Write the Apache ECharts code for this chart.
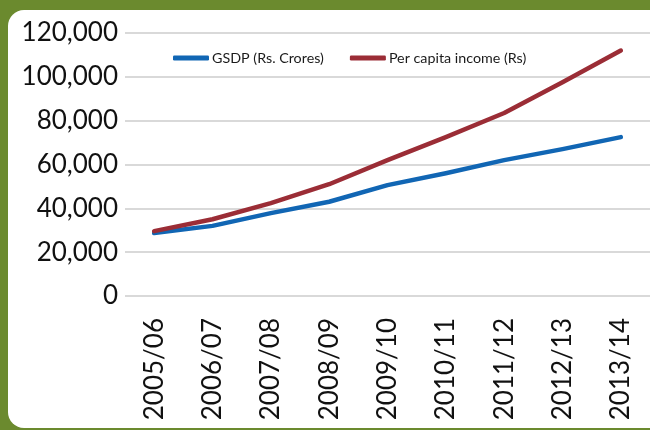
<!DOCTYPE html>
<html>
<head>
<meta charset="utf-8">
<script src="https://cdn.jsdelivr.net/npm/echarts@6/dist/echarts.min.js"></script>
<style>
html,body{margin:0;padding:0;background:#6b8a2e;}
#c{width:650px;height:430px;}
</style>
</head>
<body>
<div id="c"></div>
<script>
const categories = ['2005/06','2006/07','2007/08','2008/09','2009/10','2010/11','2011/12','2012/13','2013/14'];
const gsdp = [28700, 32000, 37800, 43000, 50600, 56000, 62000, 67000, 72500];
const perCapita = [29600, 35000, 42400, 51000, 62000, 72500, 83500, 97500, 112000];
const yTicks = {min: 0, max: 120000, interval: 20000};

const chart = echarts.init(document.getElementById('c'), null, {renderer: 'canvas'});
const FONT = 'Lato';
chart.setOption({
  backgroundColor: '#6b8a2e',
  animation: false,
  graphic: [{
    type: 'rect', z: -10, silent: true,
    shape: {x: 8, y: 10, width: 680, height: 418, r: 16},
    style: {fill: '#ffffff'}
  }],
  legend: {
    left: 168, top: 46,
    itemWidth: 36, itemHeight: 5, itemGap: 26,
    icon: 'roundRect',
    textStyle: {fontFamily: FONT, fontSize: 14.3, color: '#1a1a1a', padding: [0,0,0,-2]},
    data: ['GSDP (Rs. Crores)', 'Per capita income (Rs)']
  },
  grid: {left: 125, right: -11, top: 33, bottom: 134, containLabel: false},
  xAxis: {
    type: 'category', data: categories, boundaryGap: true,
    axisLine: {show: false}, axisTick: {show: false},
    axisLabel: {rotate: 90, margin: 22, fontFamily: FONT, fontSize: 26, color: '#111'}
  },
  yAxis: {
    type: 'value', min: yTicks.min, max: yTicks.max, interval: yTicks.interval,
    axisLine: {show: false}, axisTick: {show: false},
    axisLabel: {margin: 7, fontFamily: FONT, fontSize: 26, color: '#111',
      formatter: v => v.toLocaleString('en-US')},
    splitLine: {lineStyle: {color: '#d9d9d9', width: 2}}
  },
  series: [
    {name: 'GSDP (Rs. Crores)', type: 'line', data: gsdp, showSymbol: false, symbol: 'none',
     color: '#1166b4', lineStyle: {width: 4.5, color: '#1166b4', cap: 'round', join: 'round'}},
    {name: 'Per capita income (Rs)', type: 'line', data: perCapita, showSymbol: false, symbol: 'none',
     color: '#9b2d36', lineStyle: {width: 4.5, color: '#9b2d36', cap: 'round', join: 'round'}}
  ]
});
</script>
</body>
</html>
